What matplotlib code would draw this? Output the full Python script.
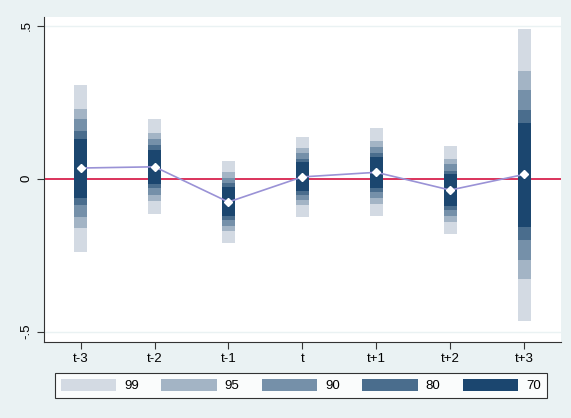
import matplotlib.pyplot as plt
from matplotlib.patches import Patch

plt.rcParams['font.family'] = ['Liberation Sans', 'DejaVu Sans']

# data
periods = ['t-3', 't-2', 't-1', 't', 't+1', 't+2', 't+3']
point = [0.035, 0.039, -0.076, 0.006, 0.021, -0.037, 0.014]

levels = ['99', '95', '90', '80', '70']
upper = {
    '99': [0.308, 0.195, 0.058, 0.136, 0.165, 0.107, 0.489],
    '95': [0.229, 0.149, 0.022, 0.100, 0.123, 0.064, 0.352],
    '90': [0.194, 0.129, 0.002, 0.084, 0.103, 0.048, 0.290],
    '80': [0.156, 0.110, -0.013, 0.064, 0.084, 0.026, 0.224],
    '70': [0.130, 0.094, -0.026, 0.054, 0.071, 0.015, 0.181],
}
lower = {
    '99': [-0.239, -0.116, -0.210, -0.125, -0.121, -0.180, -0.465],
    '95': [-0.161, -0.072, -0.171, -0.086, -0.082, -0.142, -0.328],
    '90': [-0.126, -0.054, -0.155, -0.070, -0.062, -0.122, -0.266],
    '80': [-0.086, -0.031, -0.135, -0.054, -0.044, -0.103, -0.201],
    '70': [-0.062, -0.018, -0.122, -0.040, -0.031, -0.090, -0.157],
}
colors = {'99': '#d3dae3', '95': '#a3b4c5', '90': '#7590a9',
          '80': '#4a6d8d', '70': '#1b466f'}

bg = '#eaf2f3'
fig = plt.figure(figsize=(5.71, 4.18), dpi=100, facecolor=bg)
ax = fig.add_axes([0.0765, 0.1823, 0.906, 0.778])
ax.set_facecolor('white')

x = list(range(1, len(periods) + 1))

for lv in ['.5', '-.5']:
    ax.axhline(float(lv), color=bg, lw=1, zorder=0)
ax.axhline(0, color='#d4103f', lw=1.2, zorder=1)

for lv in levels:
    h = [u - l for u, l in zip(upper[lv], lower[lv])]
    ax.bar(x, h, bottom=lower[lv], width=0.175, color=colors[lv],
           linewidth=0, zorder=2, label=lv)

ax.plot(x, point, color='#9a92d6', lw=1.2, zorder=3)
ax.plot(x, point, linestyle='none', marker='D', markersize=4.5,
        markerfacecolor='white', markeredgecolor='white', zorder=4)

ax.set_xlim(0.5, 7.5)
ax.set_ylim(-0.533, 0.53)
ax.set_xticks(x)
ax.set_xticklabels(periods)
ax.set_yticks([-0.5, 0, 0.5])
ax.set_yticklabels(['-.5', '0', '.5'], rotation=90, va='center')
ax.tick_params(labelsize=9.5, color='#333333', length=5, width=0.8, pad=3)

for s in ['top', 'right']:
    ax.spines[s].set_visible(False)
for s in ['left', 'bottom']:
    ax.spines[s].set_color('#333333')
    ax.spines[s].set_linewidth(0.8)

handles = [Patch(facecolor=colors[lv], edgecolor='none') for lv in levels]
leg = fig.legend(handles, levels, loc='center', ncol=5,
                 bbox_to_anchor=(0.527, 0.0775), fontsize=9.5,
                 handlelength=4.2, handleheight=1.0, handletextpad=0.6,
                 columnspacing=1.7, fancybox=False, frameon=True,
                 borderpad=0.45, borderaxespad=0)
leg.get_frame().set_edgecolor('black')
leg.get_frame().set_linewidth(0.8)
leg.get_frame().set_facecolor('white')

fig.savefig('out.png', dpi=100, facecolor=bg)
